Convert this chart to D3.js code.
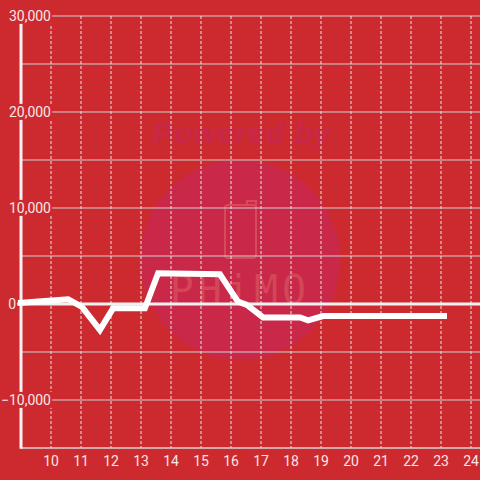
<!DOCTYPE html>
<html>
<head>
<meta charset="utf-8">
<script src="https://cdn.jsdelivr.net/npm/d3@7"></script>
<style>
  html, body { margin: 0; padding: 0; background: #cd2a2f; }
  #svgContainer { width: 480px; height: 480px; }
</style>
</head>
<body>
<div id="svgContainer"></div>
<script>
// hour of day vs. value
const hours = [8.9, 10.57, 11.03, 11.63, 12.07, 13.13, 13.57, 15.63, 16.23, 16.53, 17.07, 18.3, 18.57, 19.07, 23.2];
const values = [100, 500, -300, -2700, -450, -450, 3200, 3100, 250, -100, -1400, -1400, -1700, -1250, -1250];

const gridValues = [30000, 25000, 20000, 15000, 10000, 5000, -5000, -10000];
const yLabels = [30000, 20000, 10000, 0, -10000];
const xLabels = [10, 11, 12, 13, 14, 15, 16, 17, 18, 19, 20, 21, 22, 23, 24];

var width = 480,
    height = 480,
    bg = "#cd2a2f",
    textColor = "#f6e6e6";

var x = d3.scaleLinear().domain([9, 24]).range([21, 471]);
var y = d3.scaleLinear().domain([-15000, 30000]).range([448, 16]);

var svg = d3.select("#svgContainer").append("svg")
    .attr("width", width)
    .attr("height", height)
    .style("display", "block");

svg.append("rect")
    .attr("width", width)
    .attr("height", height)
    .attr("fill", bg);

// watermark
var wm = svg.append("g");
wm.append("circle")
    .attr("cx", 240).attr("cy", 260).attr("r", 100)
    .attr("fill", "#c92848");
wm.append("text")
    .attr("x", 242).attr("y", 143)
    .attr("text-anchor", "middle")
    .attr("font-family", "Liberation Sans, Arial, sans-serif")
    .attr("font-size", 30)
    .attr("font-weight", "bold")
    .attr("font-style", "italic")
    .attr("letter-spacing", 1)
    .attr("fill", "#c8284a")
    .text("Powered by");
wm.append("rect")
    .attr("x", 225).attr("y", 205).attr("width", 31).attr("height", 53)
    .attr("rx", 3)
    .attr("fill", "none")
    .attr("stroke", "#d64a5c")
    .attr("stroke-width", 2);
wm.append("path")
    .attr("d", "M247,205 L247,201 L256,201 L256,208")
    .attr("fill", "none")
    .attr("stroke", "#d64a5c")
    .attr("stroke-width", 2);
wm.append("text")
    .attr("x", 240).attr("y", 304)
    .attr("text-anchor", "middle")
    .attr("font-family", "'DejaVu Sans Mono', monospace")
    .attr("font-size", 40)
    .attr("letter-spacing", 4)
    .attr("fill", "#d34658")
    .text("PHiMO");

// horizontal grid
svg.append("g")
    .selectAll("line")
    .data(gridValues)
    .enter().append("line")
    .attr("x1", x(9)).attr("x2", width)
    .attr("y1", d => y(d)).attr("y2", d => y(d))
    .attr("stroke", "#cfcfcf")
    .attr("stroke-width", 1.2);

// vertical dashed grid
svg.append("g")
    .selectAll("line")
    .data(xLabels)
    .enter().append("line")
    .attr("x1", d => x(d)).attr("x2", d => x(d))
    .attr("y1", y(30000)).attr("y2", y(-15000))
    .attr("stroke", "#e6e6e6")
    .attr("stroke-width", 1)
    .attr("stroke-dasharray", "3,2");

// bottom axis
svg.append("line")
    .attr("x1", x(9)).attr("x2", width)
    .attr("y1", y(-15000)).attr("y2", y(-15000))
    .attr("stroke", "#d6d6d6")
    .attr("stroke-width", 1.5);

// left axis
svg.append("line")
    .attr("x1", x(9)).attr("x2", x(9))
    .attr("y1", y(30000)).attr("y2", y(-15000) + 0.75)
    .attr("stroke", "#f2f2f2")
    .attr("stroke-width", 3);

// zero line
svg.append("line")
    .attr("x1", 14).attr("x2", width)
    .attr("y1", y(0)).attr("y2", y(0))
    .attr("stroke", "#f2f2f2")
    .attr("stroke-width", 3);

// series
var line = d3.line()
    .x((d, i) => x(hours[i]))
    .y(d => y(d));

svg.append("path")
    .datum(values)
    .attr("d", line)
    .attr("fill", "none")
    .attr("stroke", "#ffffff")
    .attr("stroke-width", 6);

// y labels with background
var yl = svg.append("g")
    .selectAll("g")
    .data(yLabels)
    .enter().append("g");

yl.append("text")
    .attr("x", d => d == 0 ? 16 : 51)
    .attr("y", d => y(d))
    .attr("dy", "0.35em")
    .attr("text-anchor", "end")
    .attr("font-family", "Roboto, sans-serif")
    .attr("font-size", 14)
    .attr("fill", textColor)
    .text(d => d3.format(",")(d));

yl.each(function() {
    var t = d3.select(this).select("text");
    var b = t.node().getBBox();
    d3.select(this).insert("rect", "text")
        .attr("x", b.x - 1)
        .attr("y", b.y)
        .attr("width", b.width + 2)
        .attr("height", b.height)
        .attr("fill", bg);
});

// x labels
svg.append("g")
    .selectAll("text")
    .data(xLabels)
    .enter().append("text")
    .attr("x", d => x(d))
    .attr("y", 466)
    .attr("text-anchor", "middle")
    .attr("font-family", "Roboto, sans-serif")
    .attr("font-size", 14)
    .attr("fill", textColor)
    .text(d => d);
</script>
</body>
</html>
